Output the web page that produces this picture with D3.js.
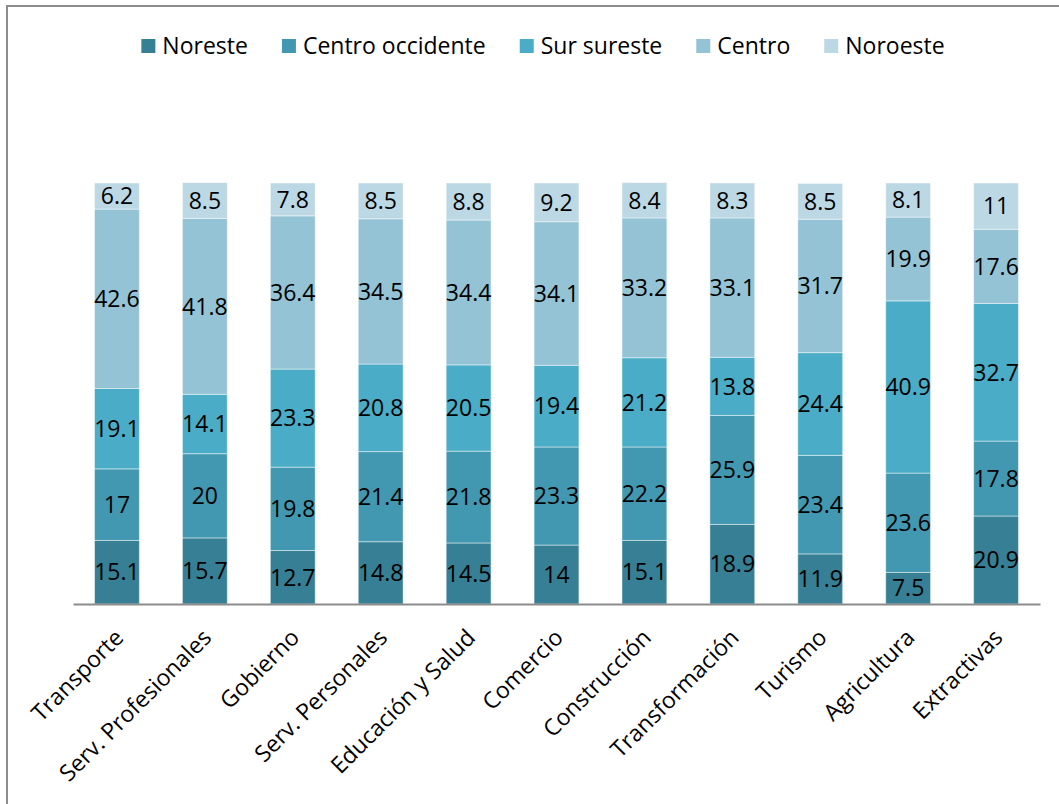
<!DOCTYPE html>
<html lang="es">
<head>
  <meta charset="UTF-8">
  <title>Distribución por región</title>
  <script src="https://d3js.org/d3.v7.min.js"></script>
  <style>
    body { margin: 0; background: #fff; }
    svg text { font-family: "Open Sans", sans-serif; fill: #000; }
  </style>
</head>
<body>
  <div id="chart"></div>
  <script>
    const sectores = ["Transporte", "Serv. Profesionales", "Gobierno", "Serv. Personales",
      "Educación y Salud", "Comercio", "Construcción", "Transformación", "Turismo",
      "Agricultura", "Extractivas"];
    const regiones = ["Noreste", "Centro occidente", "Sur sureste", "Centro", "Noroeste"];
    const noreste = [15.1, 15.7, 12.7, 14.8, 14.5, 14, 15.1, 18.9, 11.9, 7.5, 20.9];
    const centroOccidente = [17, 20, 19.8, 21.4, 21.8, 23.3, 22.2, 25.9, 23.4, 23.6, 17.8];
    const surSureste = [19.1, 14.1, 23.3, 20.8, 20.5, 19.4, 21.2, 13.8, 24.4, 40.9, 32.7];
    const centro = [42.6, 41.8, 36.4, 34.5, 34.4, 34.1, 33.2, 33.1, 31.7, 19.9, 17.6];
    const noroeste = [6.2, 8.5, 7.8, 8.5, 8.8, 9.2, 8.4, 8.3, 8.5, 8.1, 11];
    const colores = ["#367f94", "#4298b0", "#4aacc6", "#93c3d5", "#bcd8e4"];

    const series = [noreste, centroOccidente, surSureste, centro, noroeste];
    const data = sectores.map((s, i) => {
      const row = { sector: s };
      regiones.forEach((r, j) => row[r] = series[j][i]);
      return row;
    });

    const width = 1059, height = 804;
    const margin = { top: 183, right: 19, bottom: 200, left: 73 };

    const svg = d3.select("#chart").append("svg")
      .attr("width", width)
      .attr("height", height);

    // chart frame
    svg.append("rect")
      .attr("x", 7).attr("y", 6)
      .attr("width", width + 20).attr("height", height + 20)
      .attr("fill", "none")
      .attr("stroke", "#8c8c8c")
      .attr("stroke-width", 2);

    const x = d3.scaleBand()
      .domain(sectores)
      .range([margin.left, width - margin.right])
      .paddingInner(0.49)
      .paddingOuter(0.245);

    const y = d3.scaleLinear()
      .domain([0, 100])
      .range([604, margin.top]);

    const stacked = d3.stack().keys(regiones)(data);

    const layers = svg.selectAll("g.layer")
      .data(stacked)
      .enter().append("g")
      .attr("class", "layer")
      .attr("fill", (d, i) => colores[i]);

    layers.selectAll("rect")
      .data(d => d)
      .enter().append("rect")
      .attr("x", d => x(d.data.sector))
      .attr("y", d => y(d[1]))
      .attr("width", x.bandwidth())
      .attr("height", d => y(d[0]) - y(d[1]))
      .attr("stroke", "#ffffff")
      .attr("stroke-opacity", 0.45)
      .attr("stroke-width", 1);

    layers.each(function(layer) {
      d3.select(this).selectAll("text")
        .data(layer)
        .enter().append("text")
        .attr("x", d => x(d.data.sector) + x.bandwidth() / 2)
        .attr("y", d => (y(d[0]) + y(d[1])) / 2)
        .attr("dy", "0.36em")
        .attr("text-anchor", "middle")
        .style("font-size", "23px")
        .text(d => d.data[layer.key]);
    });

    // x axis
    const xAxis = svg.append("g")
      .attr("transform", `translate(0, ${y(0)})`)
      .call(d3.axisBottom(x).tickSize(0).tickPadding(0));
    xAxis.select(".domain")
      .attr("stroke", "#8c8c8c")
      .attr("stroke-width", 2);
    xAxis.selectAll(".tick text")
      .style("font-size", "23px")
      .attr("text-anchor", "end")
      .attr("dy", 0)
      .attr("y", 0)
      .attr("transform", "translate(8, 35) rotate(-45)");

    // legend
    const legend = svg.append("g").attr("transform", "translate(0, 46)");
    let lx = 0;
    const items = legend.selectAll("g")
      .data(regiones)
      .enter().append("g");
    items.append("rect")
      .attr("y", -7).attr("width", 14).attr("height", 14)
      .attr("fill", (d, i) => colores[i]);
    items.append("text")
      .attr("x", 21)
      .attr("dy", "0.36em")
      .style("font-size", "23px")
      .text(d => d);
    items.each(function() {
      d3.select(this).attr("transform", `translate(${lx}, 0)`);
      lx += this.getBBox().width + 34;
    });
    const totalW = lx - 34;
    legend.attr("transform", `translate(${543 - totalW / 2}, 46)`);
  </script>
</body>
</html>
